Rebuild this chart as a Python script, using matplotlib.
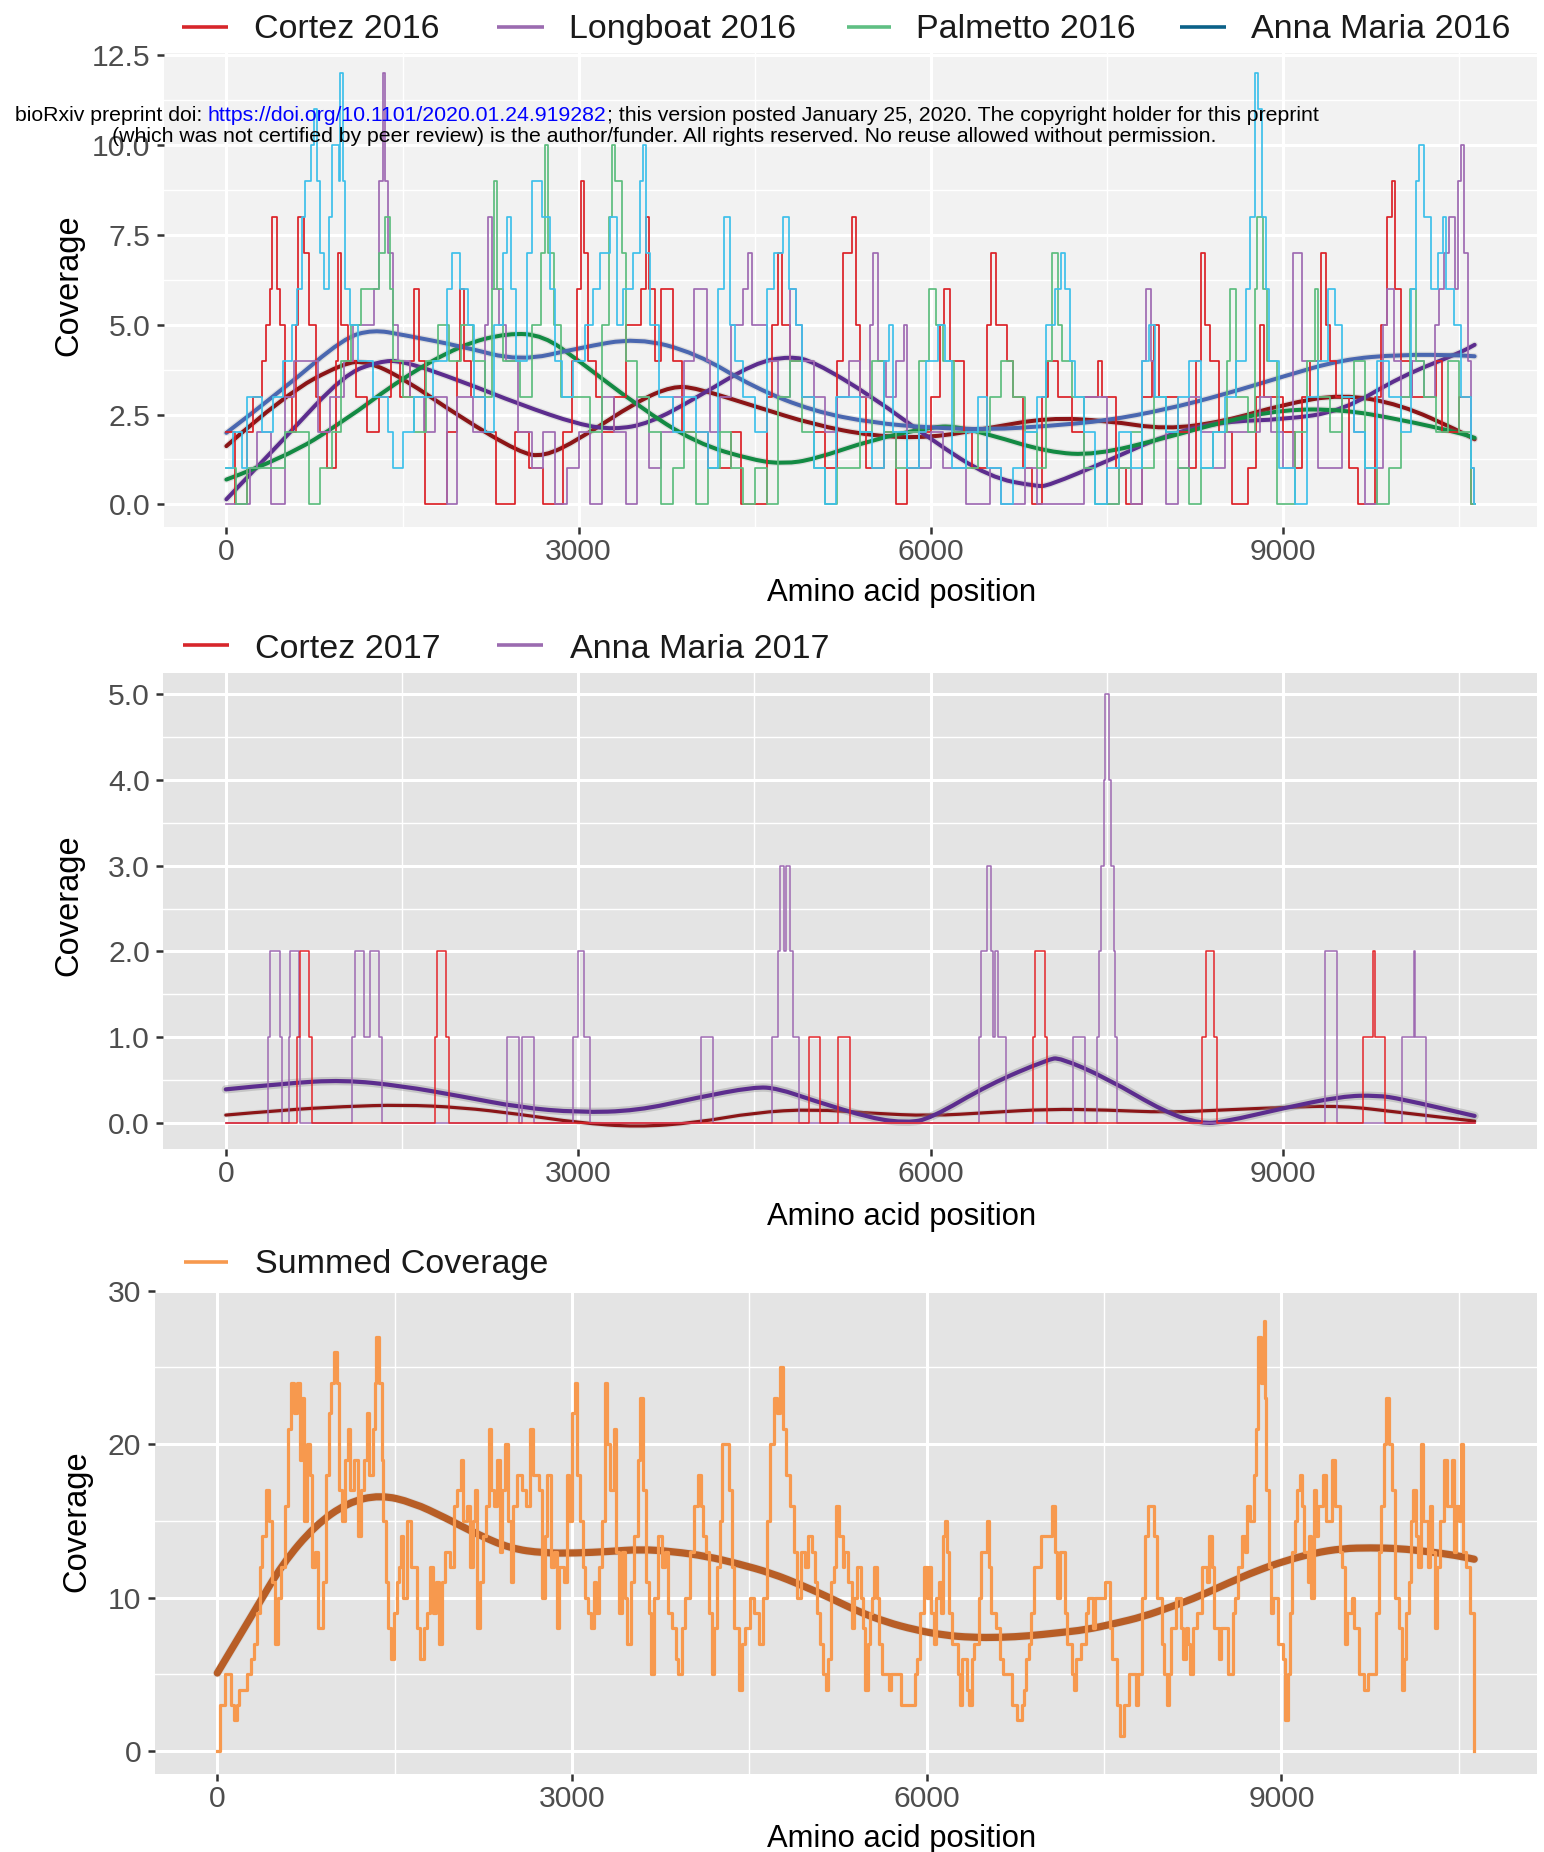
import numpy as np
import matplotlib
matplotlib.use("Agg")
import matplotlib.pyplot as plt
import matplotlib.patheffects as pe
from matplotlib.lines import Line2D
from matplotlib.path import Path
from matplotlib.patches import PathPatch

plt.rcParams['font.family'] = ['Liberation Sans', 'DejaVu Sans']

# ------------------------------------------------------------------ data
x_ticks = [0, 3000, 6000, 9000]
x_tick_labels = ['0', '3000', '6000', '9000']
x_minor = [1500, 4500, 7500, 10500]

# --- panel 1 : 2016 sites, coverage change points (position, coverage)
cortez_2016_steps = [(0,2),(70,0),(180,2),(230,3),(300,4),(340,5),(370,6),(390,8),(435,6),(460,5),
    (500,3),(560,2),(590,5),(610,8),(660,7),(700,5),(760,3),(800,2),(860,1),(930,4),(950,7),(975,5),
    (1040,4),(1100,3),(1200,2),(1300,3),(1400,4),(1480,3),(1560,4),(1600,6),(1640,4),(1690,0),(1880,2),
    (1960,4),(1990,6),(2020,4),(2080,3),(2200,2),(2300,0),(2460,2),(2580,1),(2700,0),(2870,2),(2940,4),
    (2990,6),(3020,9),(3045,7),(3080,4),(3150,3),(3200,2),(3300,3),(3400,5),(3530,6),(3570,8),(3600,6),
    (3650,4),(3700,6),(3800,4),(3880,2),(4100,1),(4300,2),(4380,0),(4600,3),(4650,5),(4700,7),(4730,5),
    (4800,4),(4900,3),(5000,2),(5100,1),(5200,4),(5250,7),(5330,8),(5360,5),(5400,3),(5450,1),(5600,2),
    (5700,0),(5800,1),(5900,2),(6000,3),(6080,5),(6110,6),(6160,4),(6280,2),(6350,1),(6480,5),(6510,7),
    (6550,5),(6650,4),(6700,3),(6780,1),(6860,0),(6950,3),(7000,4),(7080,3),(7200,2),(7300,3),(7420,4),
    (7460,3),(7580,1),(7660,0),(7800,3),(7880,4),(7900,5),(7940,3),(8100,2),(8200,1),(8260,4),(8300,7),
    (8330,5),(8380,4),(8450,2),(8560,0),(8700,1),(8770,3),(8800,5),(8840,3),(9000,2),(9100,1),(9160,3),
    (9230,4),(9320,7),(9360,5),(9400,4),(9450,3),(9560,1),(9640,0),(9780,3),(9830,5),(9880,8),(9930,9),
    (9955,6),(10000,4),(10100,3),(10300,4),(10350,2),(10500,3),(10600,0),(10630,0)]
longboat_2016_steps = [(0,0),(200,1),(260,2),(380,0),(500,3),(580,4),(780,2),(880,3),(1000,4),(1080,5),
    (1260,6),(1300,9),(1330,12),(1350,9),(1380,7),(1420,5),(1460,4),(1560,3),(1680,2),(1780,3),(1880,0),
    (1960,3),(2100,2),(2200,5),(2230,8),(2260,6),(2320,5),(2380,4),(2480,2),(2600,1),(2700,2),(2800,0),
    (2900,1),(3000,2),(3100,0),(3200,3),(3300,2),(3400,0),(3500,3),(3600,1),(3700,2),(3800,3),(3900,4),
    (3980,6),(4090,4),(4120,2),(4200,3),(4300,5),(4400,6),(4440,7),(4480,5),(4600,4),(4700,3),(4800,6),
    (4850,5),(4900,4),(5000,3),(5100,2),(5200,3),(5300,4),(5400,3),(5480,5),(5510,7),(5550,4),(5620,3),
    (5700,4),(5770,5),(5800,2),(5900,1),(6000,2),(6100,1),(6300,0),(6500,1),(6600,0),(6800,1),(6900,0),
    (7300,3),(7500,0),(7600,1),(7700,0),(7800,4),(7830,6),(7870,4),(7900,3),(8000,0),(8100,1),(8200,3),
    (8300,2),(8400,1),(8500,2),(8800,3),(8900,2),(9000,1),(9080,7),(9160,4),(9300,1),(9500,3),(9600,2),
    (9700,0),(9800,1),(9850,5),(9880,6),(9940,4),(10000,3),(10100,4),(10200,3),(10290,5),(10330,6),
    (10370,7),(10410,8),(10460,6),(10490,9),(10510,10),(10540,7),(10570,4),(10600,1),(10625,0),(10630,0)]
palmetto_2016_steps = [(0,1),(80,0),(180,1),(500,2),(700,0),(800,1),(900,2),(980,4),(1060,5),(1150,6),
    (1300,7),(1350,8),(1390,6),(1420,4),(1500,3),(1600,2),(1700,4),(1800,5),(1900,4),(2000,5),(2100,4),
    (2200,3),(2260,6),(2280,9),(2305,6),(2360,4),(2500,3),(2600,5),(2680,7),(2710,10),(2740,7),(2790,5),
    (2850,3),(3100,2),(3200,5),(3260,8),(3280,10),(3310,9),(3370,7),(3400,4),(3500,3),(3600,2),(3700,0),
    (3800,1),(3900,2),(4000,0),(4100,1),(4200,2),(4300,1),(4400,0),(4500,1),(4600,0),(4700,3),(4800,4),
    (4900,2),(5000,1),(5100,0),(5200,1),(5400,2),(5500,4),(5600,2),(5700,1),(5800,2),(5900,4),(5980,6),
    (6040,5),(6100,4),(6200,2),(6300,1),(6400,2),(6500,3),(6600,4),(6700,3),(6800,2),(6900,1),(6980,4),
    (7030,7),(7080,5),(7120,4),(7200,3),(7300,1),(7400,0),(7600,1),(7700,2),(7800,1),(7900,3),(8000,2),
    (8100,1),(8200,0),(8300,1),(8400,2),(8520,4),(8550,6),(8600,3),(8700,2),(8760,6),(8780,8),(8830,6),
    (8860,4),(8950,0),(9100,2),(9200,4),(9270,6),(9300,3),(9400,2),(9500,3),(9600,4),(9700,1),(9800,0),
    (9900,1),(10000,3),(10080,6),(10130,4),(10200,3),(10300,2),(10400,4),(10500,2),(10600,0),(10630,0)]
anna_maria_2016_steps = [(0,1),(60,2),(130,1),(180,3),(300,2),(400,3),(480,4),(560,5),(600,6),(640,8),
    (670,9),(720,10),(745,11),(770,9),(800,7),(830,6),(870,8),(900,10),(955,9),(970,12),(990,9),(1010,6),
    (1050,5),(1120,4),(1250,3),(1380,2),(1420,1),(1500,2),(1600,3),(1760,4),(1880,6),(1920,7),(1990,6),
    (2060,5),(2110,3),(2200,2),(2280,5),(2360,7),(2390,8),(2420,6),(2470,4),(2560,7),(2600,9),(2690,8),
    (2760,6),(2800,4),(2860,3),(2950,4),(3050,5),(3120,6),(3180,7),(3270,8),(3330,5),(3380,6),(3460,7),
    (3520,9),(3545,10),(3575,7),(3610,5),(3680,3),(3800,2),(3900,3),(4000,2),(4100,1),(4190,6),(4240,8),
    (4290,5),(4330,4),(4400,3),(4500,2),(4600,6),(4660,7),(4740,8),(4790,6),(4850,5),(4900,3),(5000,1),
    (5100,0),(5190,3),(5400,2),(5500,1),(5600,4),(5640,5),(5680,2),(5800,1),(5900,2),(5960,4),(6060,5),
    (6120,4),(6180,1),(6300,2),(6400,3),(6480,1),(6600,0),(6700,1),(6800,2),(6900,3),(6980,5),(7060,6),
    (7110,7),(7140,6),(7180,4),(7230,3),(7300,2),(7400,0),(7500,1),(7600,2),(7700,1),(7800,4),(7860,5),
    (7910,3),(8000,2),(8100,3),(8200,4),(8300,1),(8400,2),(8500,3),(8600,4),(8680,6),(8720,8),(8760,12),
    (8785,11),(8820,8),(8850,6),(8880,4),(8960,1),(9100,0),(9200,3),(9300,4),(9380,6),(9440,5),(9500,3),
    (9600,2),(9700,1),(9800,4),(9900,3),(10000,2),(10090,6),(10130,9),(10160,10),(10200,8),(10260,6),
    (10320,7),(10360,8),(10390,6),(10450,5),(10510,3),(10600,1),(10625,0),(10630,0)]

# smoothed fits
cortez_2016_fit_pos = [0,500,1000,1200,1500,2000,2500,2700,3000,3500,3800,4000,4500,5000,5500,6000,6500,7000,7500,8000,8500,9000,9500,10000,10500,10630]
cortez_2016_fit = [1.62,3.06,3.94,3.98,3.52,2.41,1.44,1.32,1.8,2.87,3.29,3.24,2.73,2.22,1.90,1.85,2.13,2.41,2.33,2.08,2.31,2.78,3.07,2.78,2.04,1.81]
longboat_2016_fit_pos = [0,500,1000,1300,1500,2000,2500,3000,3300,3600,4000,4500,4800,5000,5500,6000,6500,6900,7000,7500,8000,8500,9000,9500,10000,10500,10630]
longboat_2016_fit = [0.14,1.85,3.61,3.98,4.0,3.43,2.78,2.22,2.08,2.25,2.96,3.94,4.12,3.98,3.0,1.8,0.75,0.5,0.52,1.2,1.94,2.31,2.36,2.59,3.56,4.21,4.44]
palmetto_2016_fit_pos = [0,500,1000,1500,2000,2400,2700,3000,3500,4000,4500,4750,5000,5500,6000,6200,6500,7000,7400,8000,8500,9000,9500,10000,10500,10630]
palmetto_2016_fit = [0.69,1.30,2.31,3.52,4.44,4.77,4.70,4.0,2.75,1.7,1.22,1.13,1.25,1.8,2.15,2.18,1.94,1.45,1.37,1.85,2.31,2.64,2.64,2.36,1.99,1.85]
anna_maria_2016_fit_pos = [0,500,1000,1250,1500,2000,2500,3000,3500,4000,4500,5000,5500,6000,6500,7000,7500,8000,8500,9000,9500,10000,10500,10630]
anna_maria_2016_fit = [1.99,3.24,4.63,4.86,4.72,4.4,3.98,4.35,4.64,4.21,3.24,2.59,2.27,2.13,2.08,2.18,2.33,2.64,3.06,3.56,4.03,4.17,4.15,4.12]

# --- panel 2 : 2017 sites (step change points)
cortez_2017_pos = [0,608,631,707,730,1780,1799,1875,1898,4962,5060,5212,5315,6873,6885,6973,6988,8309,8340,8409,8439,9680,9768,9780,9871,10630]
cortez_2017_val = [0,1,2,1,0,1,2,1,0,1,0,1,0,1,2,1,0,1,2,1,0,1,2,1,0,0]
anna_maria_2017_pos = [0,357,380,460,475,534,545,621,628,1074,1097,1173,1230,1302,1333,2392,2498,2525,2627,2954,2999,3052,3102,4048,4147,
                       4651,4697,4719,4750,4769,4799,4830,4879,6414,6430,6480,6514,6530,6549,6576,6645,7209,7312,
                       7415,7431,7446,7473,7488,7515,7534,7557,7572,7588,9356,9456,10016,10112,10123,10215,10630]
anna_maria_2017_val = [0,1,2,1,0,1,2,1,0,1,2,1,2,1,0,1,0,1,0,1,2,1,0,1,0,
                       1,2,3,2,3,2,1,0,1,2,3,2,1,2,1,0,1,0,
                       1,2,3,4,5,4,3,2,1,0,2,0,1,2,1,0,0]
cortez_2017_fit_pos = [0,500,1000,1500,2000,2500,3000,3500,4000,4500,5000,5500,6000,6500,7000,7500,8000,8500,9000,9500,10000,10630]
cortez_2017_fit = [0.09,0.15,0.19,0.21,0.18,0.10,0.0,-0.05,0.0,0.12,0.16,0.11,0.08,0.12,0.16,0.15,0.12,0.15,0.18,0.20,0.12,0.02]
anna_maria_2017_fit_pos = [0,500,1000,1500,2000,2500,3000,3500,4000,4500,4700,5000,5500,5800,6000,6500,7000,7100,7500,8000,8300,8500,9000,9500,9800,10000,10630]
anna_maria_2017_fit = [0.39,0.46,0.50,0.43,0.31,0.18,0.12,0.14,0.29,0.42,0.40,0.26,0.05,0.0,0.05,0.45,0.74,0.76,0.52,0.12,-0.01,0.01,0.17,0.31,0.32,0.28,0.08]

# --- panel 3 : summed coverage (step change points)
summed_pos = [0,20,69,115,138,170,184,253,289,312,
              335,358,381,413,436,459,491,514,542,570,
              597,620,652,675,698,717,735,758,781,804,
              827,850,896,919,942,965,988,1010,1033,1056,
              1084,1102,1125,1157,1194,1217,1240,1263,1286,1314,
              1332,1346,1368,1392,1405,1424,1447,1470,1493,1516,
              1539,1552,1571,1608,1635,1690,1713,1745,1773,1800,
              1823,1846,1874,1902,1929,1966,1998,2030,2058,2081,
              2113,2140,2159,2177,2195,2223,2250,2273,2296,2319,
              2342,2365,2388,2411,2434,2457,2480,2503,2535,2581,
              2609,2641,2673,2719,2747,2770,2792,2820,2848,2871,
              2894,2930,2958,2976,2999,3022,3045,3068,3091,3114,
              3137,3160,3183,3206,3229,3252,3275,3298,3325,3353,
              3376,3399,3422,3445,3468,3500,3528,3555,3578,3601,
              3624,3647,3670,3697,3730,3757,3785,3812,3849,3876,
              3899,3927,3959,3996,4033,4065,4088,4111,4134,4157,
              4180,4203,4226,4249,4272,4327,4350,4372,4409,4437,
              4464,4501,4538,4584,4616,4648,4675,4707,4735,4758,
              4786,4813,4845,4877,4904,4937,4969,4997,5029,5052,
              5075,5098,5121,5144,5167,5190,5213,5236,5259,5291,
              5300,5337,5370,5385,5410,5440,5460,5478,5500,5518,
              5538,5558,5578,5598,5618,5678,5700,5779,5900,5920,
              5940,5980,6000,6020,6040,6060,6080,6100,6120,6140,
              6152,6172,6188,6213,6261,6281,6301,6341,6361,6382,
              6402,6442,6462,6510,6530,6542,6582,6622,6642,6723,
              6763,6803,6823,6843,6863,6883,6904,6964,7056,7084,
              7104,7124,7165,7185,7225,7245,7265,7305,7345,7365,
              7406,7426,7506,7546,7566,7606,7638,7667,7707,7767,
              7787,7819,7847,7867,7918,7948,7988,8008,8036,8048,
              8068,8108,8148,8168,8189,8209,8229,8249,8289,8329,
              8369,8389,8410,8430,8470,8490,8550,8590,8610,8630,
              8670,8690,8711,8731,8771,8783,8799,8823,8851,8863,
              8871,8891,8911,8931,8972,9012,9032,9052,9072,9092,
              9112,9132,9153,9173,9193,9225,9233,9253,9273,9293,
              9313,9353,9373,9426,9454,9494,9514,9534,9554,9594,
              9615,9655,9695,9735,9803,9827,9843,9867,9883,9907,
              9936,9956,9964,9996,10016,10036,10056,10076,10096,10116,
              10137,10157,10177,10197,10237,10257,10277,10297,10317,10337,
              10378,10398,10438,10458,10478,10498,10518,10538,10558,10598,
              10630]
summed_val = [0,3,5,3,2,3,4,5,6,7,
              9,12,14,17,15,11,7,10,12,16,
              21,24,22,24,19,23,15,20,18,12,
              13,8,11,18,22,24,26,24,17,15,
              19,21,17,19,14,17,19,22,18,21,
              24,27,24,19,15,11,8,6,9,11,
              12,14,10,15,12,8,6,8,9,12,
              9,11,7,11,13,12,16,17,19,15,
              16,12,15,17,8,11,14,16,21,17,
              16,19,13,17,20,15,11,16,18,17,
              16,21,18,17,10,14,18,12,13,8,
              12,11,18,15,22,24,18,15,12,10,
              9,8,11,9,12,15,24,20,17,21,
              13,9,13,10,7,11,14,19,23,17,
              11,9,5,10,14,12,13,9,8,6,
              5,8,10,13,16,18,16,14,13,9,
              5,8,12,15,20,17,12,8,4,7,
              8,10,9,7,10,15,20,23,22,25,
              21,18,16,13,10,13,12,14,13,11,
              9,7,5,4,6,11,12,16,14,12,
              13,11,8,10,12,10,8,4,7,9,
              10,12,10,7,5,4,5,3,5,6,
              9,12,10,12,9,7,10,11,9,14,
              15,13,9,7,5,3,6,4,3,6,
              7,10,13,15,12,9,8,6,5,3,
              2,3,4,6,7,9,12,14,16,13,
              10,13,9,7,5,4,6,7,9,10,
              8,10,11,8,6,3,1,3,5,3,
              5,10,14,16,14,10,7,5,3,5,
              8,10,8,6,8,7,5,8,9,12,
              11,14,12,8,6,8,5,9,10,12,
              14,13,16,15,18,21,27,24,28,23,
              17,12,9,10,7,6,2,5,9,13,
              15,17,18,16,13,11,14,10,17,14,
              16,18,15,19,16,13,12,7,9,10,
              8,5,4,5,9,13,16,20,23,20,
              17,14,10,8,4,6,9,11,15,17,
              14,12,20,15,12,16,13,8,12,15,
              19,16,19,13,16,15,20,13,12,9,
              0]
summed_fit_pos = [0,321,551,827,1102,1378,1653,1929,2205,2480,2756,3031,3307,3583,3858,4134,4409,4685,4960,5177,5418,5659,5900,6141,6382,6622,6863,7104,7345,7586,7827,8068,8309,8550,8791,9032,9273,9514,9755,9996,10237,10478,10630]
summed_fit = [5.08,9.2,12.2,14.7,16.2,16.7,16.2,15.2,14.1,13.2,12.9,12.9,13.0,13.15,13.0,12.7,12.2,11.6,10.75,10.0,9.1,8.4,7.9,7.55,7.4,7.4,7.5,7.7,7.9,8.3,8.75,9.4,10.1,10.95,11.75,12.4,12.9,13.2,13.25,13.2,13.0,12.75,12.5]

# ------------------------------------------------------------------ figure
W, H, DPI = 1544, 1852, 100
fig = plt.figure(figsize=(W / DPI, H / DPI), dpi=DPI)
fig.patch.set_facecolor('white')


def fx(px):
    return px / W


def fy(py):
    return 1 - py / H


def panel(left, top, right, bottom, bg):
    ax = fig.add_axes([fx(left), fy(bottom), (right - left) / W, (bottom - top) / H])
    ax.set_facecolor(bg)
    for s in ax.spines.values():
        s.set_visible(False)
    ax.set_axisbelow(True)
    ax.set_xlim(-531, 11161)
    ax.set_xticks(x_ticks)
    ax.set_xticklabels(x_tick_labels)
    ax.set_xticks(x_minor, minor=True)
    ax.grid(which='major', color='white', lw=2.2)
    ax.grid(which='minor', color='white', lw=1.0)
    ax.tick_params(which='major', length=5.2, width=1.8, color='#333333',
                   labelsize=21.7, labelcolor='#4D4D4D')
    ax.tick_params(axis='x', which='major', pad=3)
    ax.tick_params(axis='y', which='major', pad=4.5)
    ax.tick_params(which='minor', length=0)
    return ax


def halo(lw, extra=2.5, alpha=0.3):
    return [pe.Stroke(linewidth=lw + extra, foreground='#8c8c8c', alpha=alpha), pe.Normal()]


def fit_curve(ax, xs, ys, color, lw, extra, alpha):
    """Draw a fitted curve through the read points, rendered with quadratic
    Bezier joins so the line is smooth like the original loess/gam fit."""
    pts = list(zip(xs, ys))
    verts = [pts[0]]
    codes = [Path.MOVETO]
    for i in range(1, len(pts) - 1):
        mid = ((pts[i][0] + pts[i + 1][0]) / 2, (pts[i][1] + pts[i + 1][1]) / 2)
        verts += [pts[i], mid]
        codes += [Path.CURVE3, Path.CURVE3]
    verts.append(pts[-1])
    codes.append(Path.LINETO)
    patch = PathPatch(Path(verts, codes), fill=False, edgecolor=color, lw=lw,
                      capstyle='round', joinstyle='round', path_effects=halo(lw, extra, alpha))
    ax.add_patch(patch)


def legend_entry(x_key0, x_key1, y_key, x_text, y_base, label, color):
    fig.add_artist(Line2D([fx(x_key0), fx(x_key1)], [fy(y_key), fy(y_key)],
                          transform=fig.transFigure, color=color, lw=2.6, solid_capstyle='butt'))
    fig.text(fx(x_text), fy(y_base), label, fontsize=24.5, color='#1A1A1A',
             ha='left', va='baseline')


# ---------------- panel 1
ax1 = panel(164, 53, 1537, 527, '#F2F2F2')
ax1.set_ylim(-0.63, 12.56)
ax1.set_yticks([0, 2.5, 5, 7.5, 10, 12.5])
ax1.set_yticklabels(['0.0', '2.5', '5.0', '7.5', '10.0', '12.5'])
ax1.set_yticks([1.25, 3.75, 6.25, 8.75, 11.25], minor=True)

step_series = [
    (cortez_2016_steps, '#DC2127'),
    (longboat_2016_steps, '#9E6AB2'),
    (palmetto_2016_steps, '#5DBD7E'),
    (anna_maria_2016_steps, '#3EC0EA'),
]
for steps, col in step_series:
    px = [p for p, v in steps]
    pv = [v for p, v in steps]
    ax1.step(px, pv, where='post', color=col, lw=1.25)

fit_series = [
    (cortez_2016_fit_pos, cortez_2016_fit, '#8B1517'),
    (longboat_2016_fit_pos, longboat_2016_fit, '#5C2D8E'),
    (palmetto_2016_fit_pos, palmetto_2016_fit, '#138A43'),
    (anna_maria_2016_fit_pos, anna_maria_2016_fit, '#4A67B0'),
]
for xs, ys, col in fit_series:
    fit_curve(ax1, xs, ys, col, 2.9, 1.8, 0.2)

# ---------------- panel 2
ax2 = panel(163.4, 672.6, 1537, 1148.5, '#E4E4E4')
ax2.set_ylim(-0.30, 5.253)
ax2.set_yticks([0, 1, 2, 3, 4, 5])
ax2.set_yticklabels(['0.0', '1.0', '2.0', '3.0', '4.0', '5.0'])
ax2.set_yticks([0.5, 1.5, 2.5, 3.5, 4.5], minor=True)
ax2.step(anna_maria_2017_pos, anna_maria_2017_val, where='post', color='#9E6AB2', lw=1.1)
ax2.step(cortez_2017_pos, cortez_2017_val, where='post', color='#E3262B', lw=1.1)
fit_curve(ax2, cortez_2017_fit_pos, cortez_2017_fit, '#8B1517', 2.3, 1.5, 0.2)
fit_curve(ax2, anna_maria_2017_fit_pos, anna_maria_2017_fit, '#5C2D8E', 3.0, 3.0, 0.35)

# ---------------- panel 3
ax3 = panel(154.5, 1290, 1537, 1774, '#E4E4E4')
ax3.set_ylim(-1.5, 30.05)
ax3.set_yticks([0, 10, 20, 30])
ax3.set_yticklabels(['0', '10', '20', '30'])
ax3.set_yticks([5, 15, 25], minor=True)
n_sum = min(len(summed_pos), len(summed_val))
ax3.step(summed_pos[:n_sum], summed_val[:n_sum], where='post', color='#F7994E', lw=2.3)
fit_curve(ax3, summed_fit_pos, summed_fit, '#B85E26', 5.2, 1.2, 0.15)

# ---------------- axis titles
for yb in (601, 1225, 1847):
    fig.text(fx(902), fy(yb), 'Amino acid position', fontsize=22.3, color='black',
             ha='center', va='baseline')
for xc, yc in ((68.5, 285), (68.5, 905), (76.8, 1521)):
    fig.text(fx(xc), fy(yc), 'Coverage', fontsize=23.5, color='black',
             ha='center', va='center', rotation=90)

# ---------------- legends
legend_entry(182, 228, 26.7, 254, 38.3, 'Cortez 2016', '#D7262B')
legend_entry(497, 544, 26.7, 569, 38.3, 'Longboat 2016', '#9B6BB0')
legend_entry(847, 891, 26.7, 916, 38.3, 'Palmetto 2016', '#5FBF83')
legend_entry(1180, 1226, 26.7, 1251, 38.3, 'Anna Maria 2016', '#0B6188')

legend_entry(183, 229, 645, 255, 657.5, 'Cortez 2017', '#D7262B')
legend_entry(497, 543, 645, 569.6, 657.5, 'Anna Maria 2017', '#9B6BB0')

legend_entry(184, 228, 1261.5, 254.7, 1273, 'Summed Coverage', '#F7994E')

# ---------------- bioRxiv header overlay
renderer = fig.canvas.get_renderer()
p1 = "bioRxiv preprint doi: "
p2 = "https://doi.org/10.1101/2020.01.24.919282"
p3 = "; this version posted January 25, 2020. The copyright holder for this preprint"
line2 = ("(which was not certified by peer review) is the author/funder. "
         "All rights reserved. No reuse allowed without permission.")


def text_width(s, fs):
    t = fig.text(0, 0, s, fontsize=fs)
    w = t.get_window_extent(renderer=renderer).width
    t.remove()
    return w


fs0 = 14.0
w_full = text_width(p1 + p2 + p3, fs0)
fs = fs0 * 1310.0 / w_full
w123 = text_width(p1 + p2 + p3, fs)
w12 = text_width(p1 + p2, fs)
w2 = text_width(p2, fs)
w3 = text_width(p3, fs)
x0 = 666.7 - w123 / 2
base1 = 120.7
fig.text(fx(x0), fy(base1), p1, fontsize=fs, color='black', ha='left', va='baseline', zorder=20)
fig.text(fx(x0 + w12 - w2), fy(base1), p2, fontsize=fs, color='#0000FF', ha='left', va='baseline', zorder=20)
fig.text(fx(x0 + w123 - w3), fy(base1), p3, fontsize=fs, color='black', ha='left', va='baseline', zorder=20)
fig.text(fx(664), fy(141.5), line2, fontsize=fs, color='black', ha='center', va='baseline', zorder=20)

fig.savefig('out.png', dpi=DPI, facecolor='white')
